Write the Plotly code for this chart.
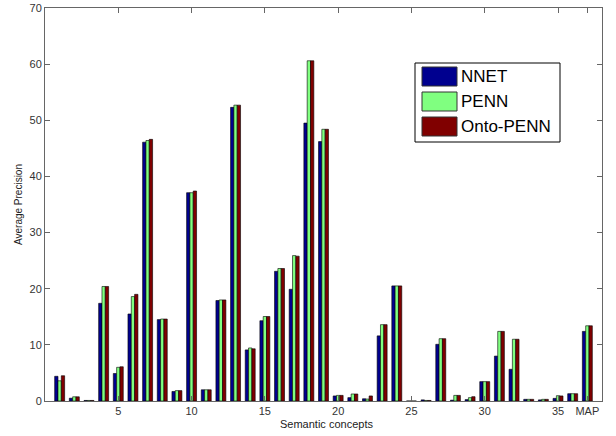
import plotly.graph_objects as go

categories = list(range(1, 38))  # 1..36 concepts + MAP at 37
tick_vals = [5, 10, 15, 20, 25, 30, 35, 37]
tick_text = ["5", "10", "15", "20", "25", "30", "35", "MAP"]

nnet = [4.4, 0.5, 0.1, 17.4, 4.9, 15.5, 46.1, 14.5, 1.7, 37.1,
        2.0, 17.9, 52.3, 9.1, 14.3, 23.1, 19.9, 49.5, 46.2, 0.9,
        0.6, 0.4, 11.6, 20.5, 0.0, 0.2, 10.1, 0.15, 0.25, 3.45,
        8.0, 5.65, 0.3, 0.2, 0.47, 1.3, 12.4]
penn = [3.6, 0.75, 0.1, 20.4, 6.0, 18.6, 46.4, 14.6, 1.85, 37.1,
        2.0, 18.0, 52.7, 9.45, 15.05, 23.6, 25.9, 60.6, 48.4, 1.0,
        1.25, 0.35, 13.6, 20.5, 0.0, 0.1, 11.1, 1.0, 0.6, 3.45,
        12.4, 11.0, 0.3, 0.3, 0.95, 1.3, 13.4]
onto = [4.5, 0.75, 0.1, 20.4, 6.1, 19.0, 46.6, 14.6, 1.85, 37.4,
        2.0, 18.0, 52.7, 9.3, 15.05, 23.6, 25.8, 60.6, 48.4, 1.0,
        1.25, 0.9, 13.6, 20.5, 0.0, 0.1, 11.1, 1.0, 0.77, 3.45,
        12.4, 11.0, 0.3, 0.3, 0.9, 1.3, 13.4]
series_names = ["NNET", "PENN", "Onto-PENN"]
colors = ["#00008F", "#80FF80", "#800000"]

FONT = "Liberation Sans, Arial, sans-serif"
AXC = "#666666"

fig = go.Figure()
for name, vals, c in zip(series_names, [nnet, penn, onto], colors):
    fig.add_trace(go.Bar(x=categories, y=vals, name=name, marker_color=c,
                         marker_line_color="black", marker_line_width=0.6,
                         showlegend=False))

L, R, T, B = 45, 14, 8, 35
W, H = 616, 436
fig.update_layout(
    width=W, height=H,
    margin=dict(l=L, r=R, t=T, b=B, autoexpand=False),
    paper_bgcolor="white", plot_bgcolor="white",
    barmode="group", bargap=0.32, bargroupgap=0,
    font=dict(family=FONT, size=11, color="#222"),
)
fig.update_xaxes(range=[0, 38], tickvals=tick_vals, ticktext=tick_text,
                 showline=True, linecolor=AXC, linewidth=1, mirror="allticks",
                 ticks="inside", ticklen=5, tickcolor=AXC, showgrid=False,
                 zeroline=False, automargin=False, tickfont=dict(color="#333"))
fig.update_yaxes(range=[0, 70], tickvals=list(range(0, 71, 10)),
                 showline=True, linecolor=AXC, linewidth=1, mirror="allticks",
                 ticks="inside", ticklen=5, tickcolor=AXC, showgrid=False,
                 zeroline=False, automargin=False, tickfont=dict(color="#333"))

pw, ph = W - L - R, H - T - B
def px(x):
    return (x - L) / pw
def py(y):
    return (H - B - y) / ph

# axis titles
fig.add_annotation(xref="paper", yref="paper", x=px(326), y=py(424),
                   text="Semantic concepts", showarrow=False,
                   xanchor="center", yanchor="middle", font=dict(size=11))
fig.add_annotation(xref="paper", yref="paper", x=px(18), y=py(205),
                   text="Average Precision", showarrow=False, textangle=-90,
                   xanchor="center", yanchor="middle", font=dict(size=10))

# custom MATLAB-style legend
fig.add_shape(type="rect", xref="paper", yref="paper", x0=px(415), x1=px(560),
              y0=py(142), y1=py(63), line=dict(color="black", width=1), fillcolor="white")
rows = [(67, 86), (92, 111), (117, 136)]
for (ya, yb), name, c in zip(rows, series_names, colors):
    fig.add_shape(type="rect", xref="paper", yref="paper", x0=px(422), x1=px(457),
                  y0=py(yb), y1=py(ya), line=dict(color="#333", width=1), fillcolor=c)
    fig.add_annotation(xref="paper", yref="paper", x=px(459), y=py((ya + yb) / 2),
                       text=name, showarrow=False, xanchor="left", yanchor="middle",
                       font=dict(size=17, family=FONT, color="black"))

fig.write_html("out.html", config={"displayModeBar": False},
               post_script="document.body.style.margin='0';document.body.style.overflow='hidden';")
